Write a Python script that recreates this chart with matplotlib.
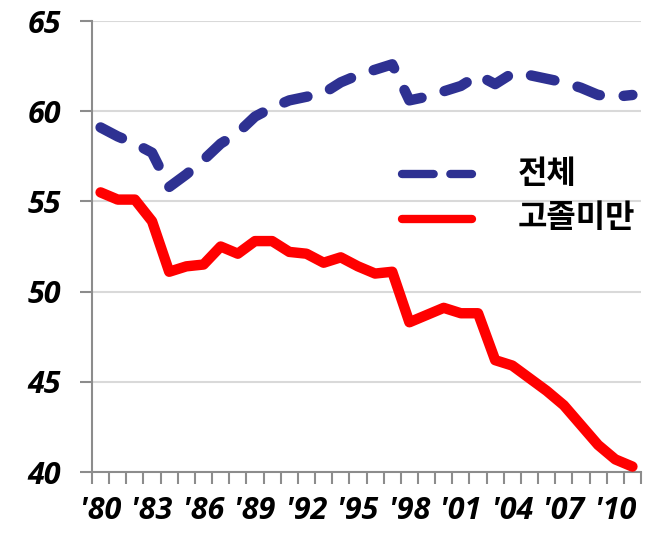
import matplotlib
matplotlib.use("Agg")
import matplotlib.pyplot as plt
from matplotlib.lines import Line2D
import numpy as np

years = list(range(1980, 2012))
total = [59.1, 58.6, 58.2, 57.7, 55.8, 56.5, 57.3, 58.2, 58.8, 59.7, 60.2, 60.6,
         60.8, 61.0, 61.6, 62.0, 62.3, 62.6, 60.6, 60.8, 61.1, 61.4, 62.0, 61.5,
         62.1, 62.0, 61.8, 61.6, 61.3, 60.9, 60.8, 60.9]
below_hs = [55.5, 55.1, 55.1, 53.9, 51.1, 51.4, 51.5, 52.5, 52.1, 52.8, 52.8, 52.2,
            52.1, 51.6, 51.9, 51.4, 51.0, 51.1, 48.3, 48.7, 49.1, 48.8, 48.8, 46.2,
            45.9, 45.2, 44.5, 43.7, 42.6, 41.5, 40.7, 40.3]
labels = ["'80", "'83", "'86", "'89", "'92", "'95", "'98", "'01", "'04", "'07", "'10"]
series_names = ["전체", "고졸미만"]
yticks = [40, 45, 50, 55, 60, 65]

W, H = 652, 534
fig = plt.figure(figsize=(W / 100, H / 100), dpi=100)
ax = fig.add_axes([92 / W, (H - 472) / H, (641 - 92) / W, (472 - 21) / H])

x = np.arange(len(years))
blue = "#2E3192"
red = "#FF0000"
ax.plot(x, total, color=blue, lw=7.5, dashes=(2.3, 2.3), dash_capstyle="round",
        solid_capstyle="round", solid_joinstyle="round", zorder=3)
ax.plot(x, below_hs, color=red, lw=7.5, solid_capstyle="round",
        solid_joinstyle="round", zorder=3)

ax.set_xlim(-0.5, len(years) - 0.5)
ax.set_ylim(40, 65)
ax.set_yticks(yticks)
ax.grid(axis="y", color="#D9D9D9", lw=1.5, zorder=0)
ax.set_axisbelow(True)

for s in ["top", "right"]:
    ax.spines[s].set_visible(False)
for s in ["left", "bottom"]:
    ax.spines[s].set_color("#8C8C8C")
    ax.spines[s].set_linewidth(1.5)

tick_font = dict(family=["Open Sans", "DejaVu Sans"], weight="bold", style="italic", size=22)
ax.set_yticklabels([str(v) for v in yticks], fontdict=tick_font)
ax.tick_params(axis="y", length=8.5, width=1.5, color="#8C8C8C", pad=14)

ax.set_xticks(x[::3])
ax.set_xticklabels(labels, fontdict=tick_font)
ax.set_xticks(np.arange(-0.5, len(years)), minor=True)
ax.tick_params(axis="x", which="major", length=0, pad=17)
ax.tick_params(axis="x", which="minor", length=8.5, width=1.5, color="#8C8C8C", direction="out")

# legend (manual placement, figure pixel coords)
def px(xp, yp):
    return xp / W, (H - yp) / H

l1 = Line2D([px(402, 0)[0], px(472, 0)[0]], [px(0, 174)[1]] * 2, transform=fig.transFigure,
            color=blue, lw=6, dashes=(3.8, 2.0), dash_capstyle="round")
l2 = Line2D([px(402, 0)[0], px(472, 0)[0]], [px(0, 219)[1]] * 2, transform=fig.transFigure,
            color=red, lw=6, solid_capstyle="round")
fig.add_artist(l1)
fig.add_artist(l2)
leg_font = dict(family=["Noto Sans CJK KR", "DejaVu Sans"], weight="bold", size=23)
fig.text(*px(518, 174), series_names[0], va="center", ha="left", **leg_font)
fig.text(*px(518, 218), series_names[1], va="center", ha="left", **leg_font)

fig.savefig("out.png", dpi=100)
